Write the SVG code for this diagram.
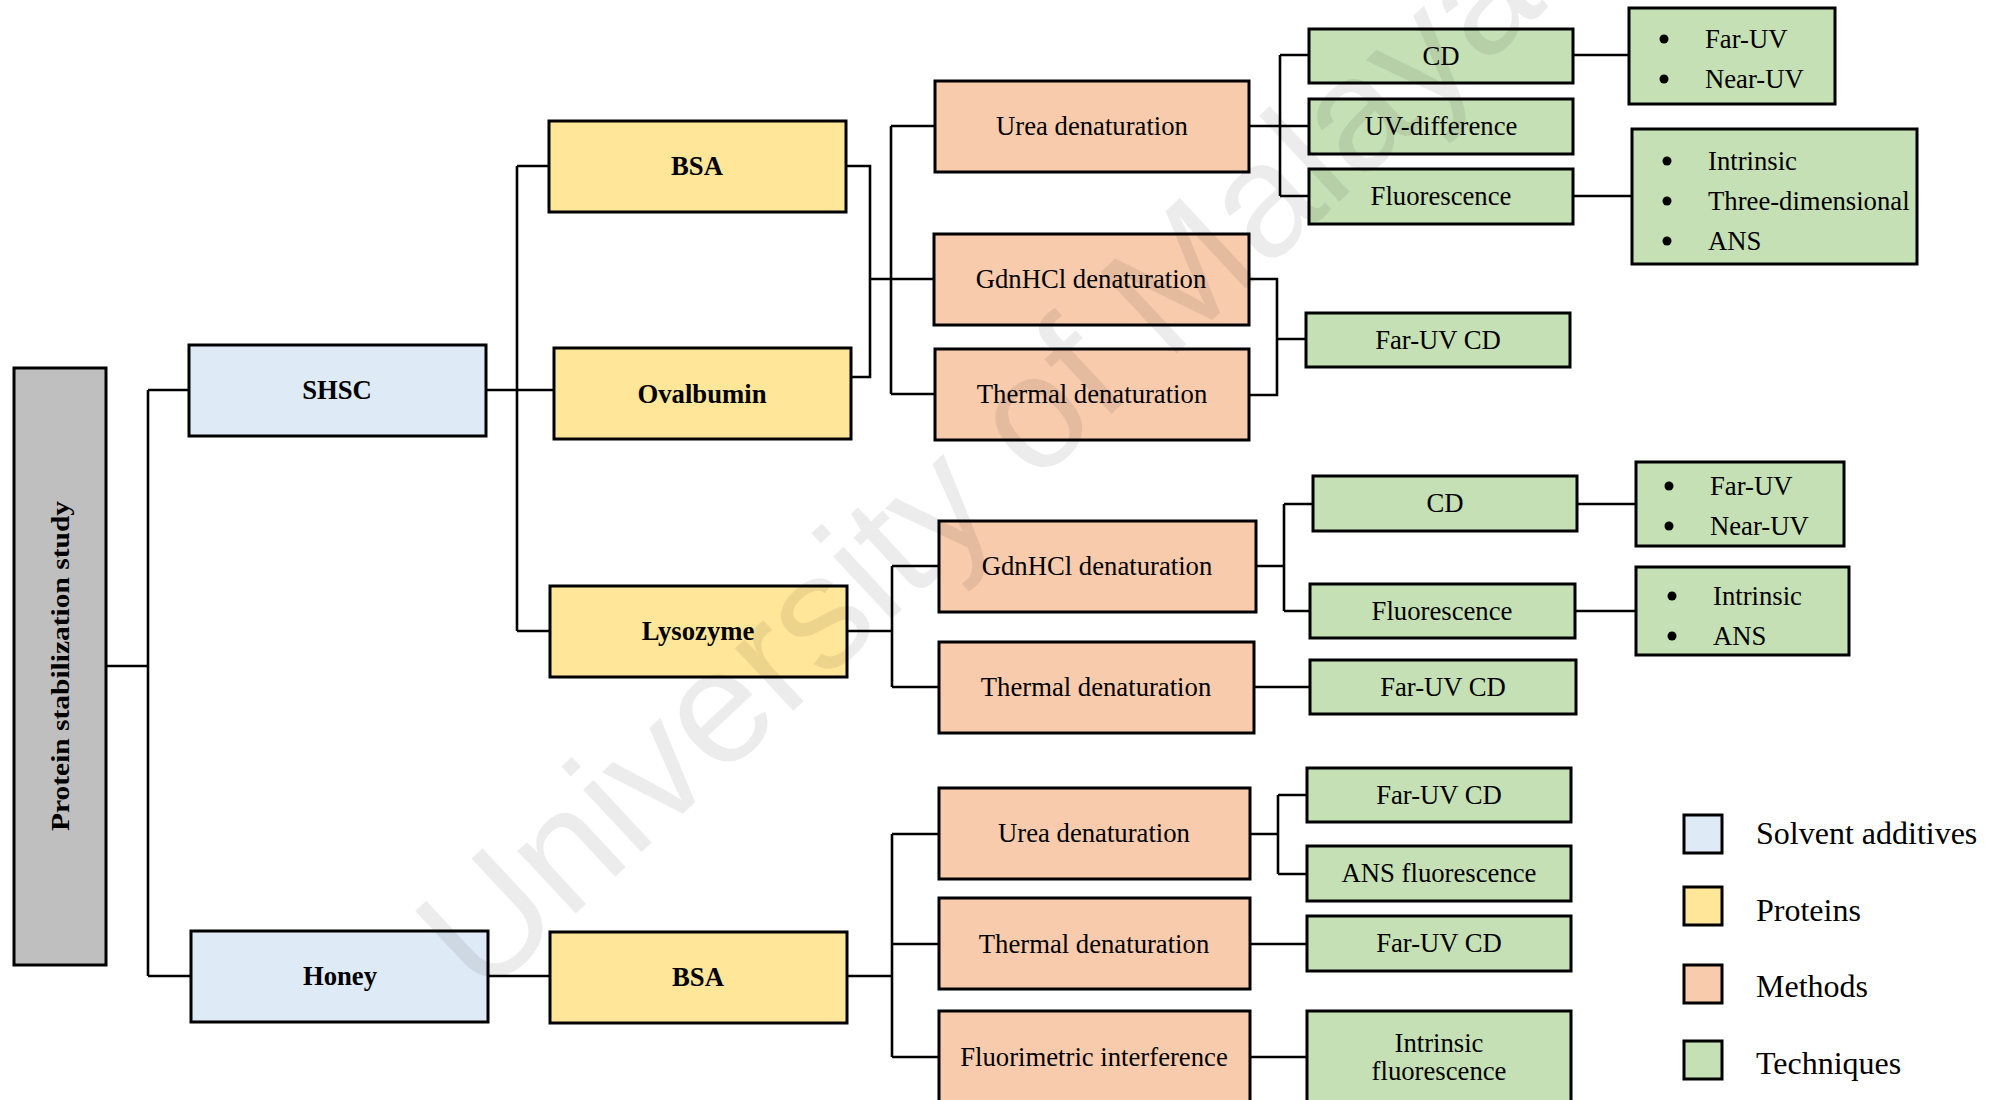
<svg xmlns="http://www.w3.org/2000/svg" width="2002" height="1100" viewBox="0 0 2002 1100">
<style>
.box{stroke:#000;stroke-width:3}
.root{fill:#BFBFBF}
.solv{fill:#DEEAF6}
.prot{fill:#FFE699}
.meth{fill:#F8CBAD}
.tech{fill:#C5E0B4}
text{font-family:"Liberation Serif","Times New Roman",serif;font-size:26.7px;fill:#000}
.c{text-anchor:middle;dominant-baseline:central}
.b{font-weight:bold}
.l{dominant-baseline:central}
.leg{font-size:32px;dominant-baseline:central}
.conn path{fill:none;stroke:#000;stroke-width:2.6}
.wm{font-family:"Liberation Sans",Arial,sans-serif;font-size:162px;fill:#000;fill-opacity:0.075}
</style>
<rect width="2002" height="1100" fill="#fff"/>

<g id="connectors" class="conn">
<path d="M106,666H148M148,390V976M148,390H189M148,976H191"/>
<path d="M486,390H554M517,166V631M517,166H549M517,631H550"/>
<path d="M846,166H870V377H851M870,279H891M891,126V394M891,126H935M891,279H934M891,394H935"/>
<path d="M1249,126H1280M1280,55V196M1280,55H1309M1280,126H1309M1280,196H1309"/>
<path d="M1573,55H1629M1573,196H1632"/>
<path d="M1249,279H1277V395H1249M1277,339H1306"/>
<path d="M847,631H892M892,566V687M892,566H939M892,687H939"/>
<path d="M1256,566H1284M1284,504V611M1284,504H1313M1284,611H1310"/>
<path d="M1577,504H1636M1575,611H1636M1254,687H1310"/>
<path d="M488,976H550M847,976H892M892,834V1057M892,834H939M892,944H939M892,1057H939"/>
<path d="M1250,834H1278M1278,795V874M1278,795H1307M1278,874H1307"/>
<path d="M1250,944H1307M1250,1057H1307"/>
</g>

<g id="root"><rect class="box root" x="14" y="368" width="92" height="597"/>
<text class="c b" transform="translate(60,666) rotate(-90)" textLength="330" lengthAdjust="spacingAndGlyphs" style="font-size:25px">Protein stabilization study</text></g>

<g id="shsc"><rect class="box solv" x="189" y="345" width="297" height="91"/><text class="c b" x="337" y="390">SHSC</text></g>
<g id="honey"><rect class="box solv" x="191" y="931" width="297" height="91"/><text class="c b" x="340" y="976">Honey</text></g>

<g id="bsa1"><rect class="box prot" x="549" y="121" width="297" height="91"/><text class="c b" x="697" y="166">BSA</text></g>
<g id="ovalbumin"><rect class="box prot" x="554" y="348" width="297" height="91"/><text class="c b" x="702" y="394">Ovalbumin</text></g>
<g id="lysozyme"><rect class="box prot" x="550" y="586" width="297" height="91"/><text class="c b" x="698" y="631">Lysozyme</text></g>
<g id="bsa2"><rect class="box prot" x="550" y="932" width="297" height="91"/><text class="c b" x="698" y="977">BSA</text></g>

<g id="urea1"><rect class="box meth" x="935" y="81" width="314" height="91"/><text class="c" x="1092" y="126">Urea denaturation</text></g>
<g id="gdnhcl1"><rect class="box meth" x="934" y="234" width="315" height="91"/><text class="c" x="1091" y="279">GdnHCl denaturation</text></g>
<g id="thermal1"><rect class="box meth" x="935" y="349" width="314" height="91"/><text class="c" x="1092" y="394">Thermal denaturation</text></g>
<g id="gdnhcl2"><rect class="box meth" x="939" y="521" width="317" height="91"/><text class="c" x="1097" y="566">GdnHCl denaturation</text></g>
<g id="thermal2"><rect class="box meth" x="939" y="642" width="315" height="91"/><text class="c" x="1096" y="687">Thermal denaturation</text></g>
<g id="urea3"><rect class="box meth" x="939" y="788" width="311" height="91"/><text class="c" x="1094" y="833">Urea denaturation</text></g>
<g id="thermal3"><rect class="box meth" x="939" y="898" width="311" height="91"/><text class="c" x="1094" y="944">Thermal denaturation</text></g>
<g id="fluorimetric"><rect class="box meth" x="939" y="1011" width="311" height="92"/><text class="c" x="1094" y="1057">Fluorimetric interference</text></g>

<g id="cd1"><rect class="box tech" x="1309" y="29" width="264" height="54"/><text class="c" x="1441" y="56">CD</text></g>
<g id="uvdiff"><rect class="box tech" x="1309" y="99" width="264" height="55"/><text class="c" x="1441" y="126">UV-difference</text></g>
<g id="fluor1"><rect class="box tech" x="1309" y="169" width="264" height="55"/><text class="c" x="1441" y="196">Fluorescence</text></g>
<g id="faruvcd1"><rect class="box tech" x="1306" y="313" width="264" height="54"/><text class="c" x="1438" y="340">Far-UV CD</text></g>
<g id="cd2"><rect class="box tech" x="1313" y="476" width="264" height="55"/><text class="c" x="1445" y="503">CD</text></g>
<g id="fluor2"><rect class="box tech" x="1310" y="584" width="265" height="54"/><text class="c" x="1442" y="611">Fluorescence</text></g>
<g id="faruvcd2"><rect class="box tech" x="1310" y="660" width="266" height="54"/><text class="c" x="1443" y="687">Far-UV CD</text></g>
<g id="faruvcd3"><rect class="box tech" x="1307" y="768" width="264" height="54"/><text class="c" x="1439" y="795">Far-UV CD</text></g>
<g id="ansfluor"><rect class="box tech" x="1307" y="846" width="264" height="55"/><text class="c" x="1439" y="873">ANS fluorescence</text></g>
<g id="faruvcd4"><rect class="box tech" x="1307" y="916" width="264" height="55"/><text class="c" x="1439" y="943">Far-UV CD</text></g>
<g id="intrfluor"><rect class="box tech" x="1307" y="1011" width="264" height="92"/><text class="c" x="1439" y="1043">Intrinsic</text><text class="c" x="1439" y="1071">fluorescence</text></g>

<g id="bul1"><rect class="box tech" x="1629" y="8" width="206" height="96"/>
<circle cx="1664" cy="39" r="4.5"/><circle cx="1664" cy="79" r="4.5"/>
<text class="l" x="1705" y="39">Far-UV</text><text class="l" x="1705" y="79">Near-UV</text></g>
<g id="bul2"><rect class="box tech" x="1632" y="129" width="285" height="135"/>
<circle cx="1667" cy="161" r="4.5"/><circle cx="1667" cy="201" r="4.5"/><circle cx="1667" cy="241" r="4.5"/>
<text class="l" x="1708" y="161">Intrinsic</text><text class="l" x="1708" y="201">Three-dimensional</text><text class="l" x="1708" y="241">ANS</text></g>
<g id="bul3"><rect class="box tech" x="1636" y="462" width="208" height="84"/>
<circle cx="1669" cy="486" r="4.5"/><circle cx="1669" cy="526" r="4.5"/>
<text class="l" x="1710" y="486">Far-UV</text><text class="l" x="1710" y="526">Near-UV</text></g>
<g id="bul4"><rect class="box tech" x="1636" y="567" width="213" height="88"/>
<circle cx="1672" cy="596" r="4.5"/><circle cx="1672" cy="636" r="4.5"/>
<text class="l" x="1713" y="596">Intrinsic</text><text class="l" x="1713" y="636">ANS</text></g>

<g id="legend">
<rect class="box solv" x="1684" y="815" width="38" height="38"/><text class="leg" x="1756" y="833">Solvent additives</text>
<rect class="box prot" x="1684" y="887" width="38" height="38"/><text class="leg" x="1756" y="910">Proteins</text>
<rect class="box meth" x="1684" y="965" width="38" height="38"/><text class="leg" x="1756" y="986">Methods</text>
<rect class="box tech" x="1684" y="1041" width="38" height="38"/><text class="leg" x="1756" y="1063">Techniques</text>
</g>

<text class="wm" transform="translate(482,1001) rotate(-43)">University of Malaya</text>
</svg>
